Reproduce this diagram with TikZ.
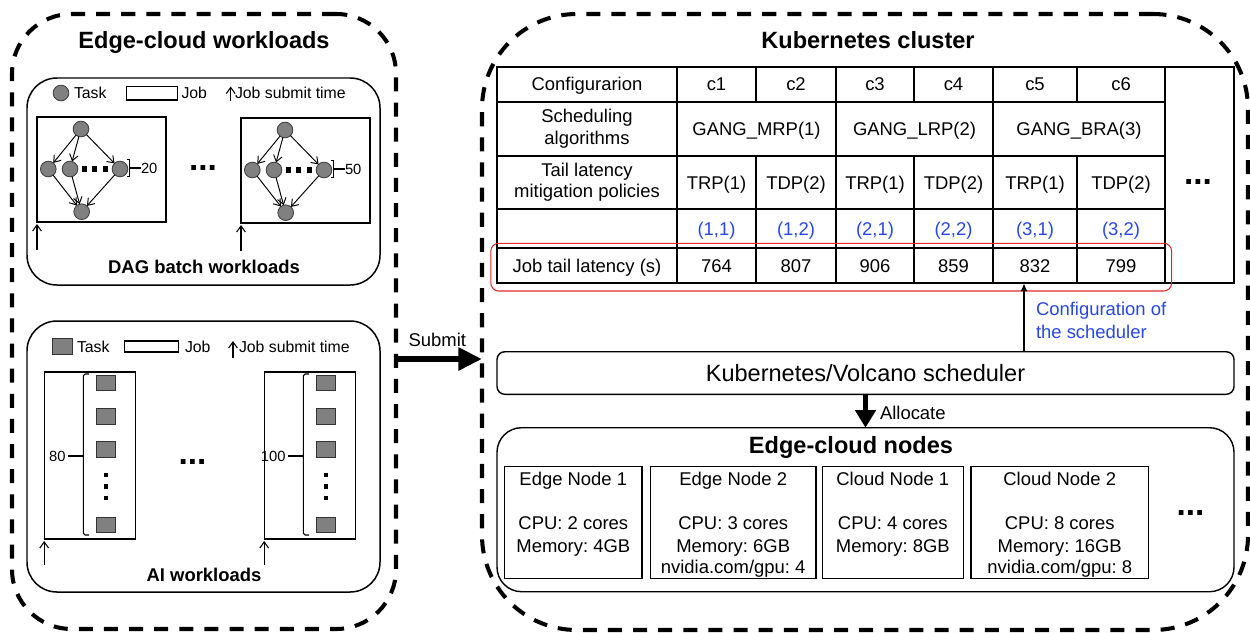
\documentclass[tikz,border=0pt]{standalone}
\usepackage{fontspec}
\setmainfont{Liberation Sans}
\usetikzlibrary{arrows.meta}
\frenchspacing
\definecolor{taskgray}{RGB}{128,128,128}
\definecolor{cfgblue}{RGB}{40,70,230}
\definecolor{boxred}{RGB}{230,40,40}
\newcommand\cellat[7]{\node[cell,#6,minimum width={(#4-#2)*0.02cm},minimum height={(#5-#3)*0.02cm},anchor=north west] (#1) at (#2,#3) {#7};}
\newcommand\boxat[6]{\node[#6,minimum width={(#4-#2)*0.02cm},minimum height={(#5-#3)*0.02cm},anchor=north west] (#1) at (#2,#3) {};}
\newcommand\dagjob[4]{%
\begin{scope}[shift={(#2,#3)}]
\boxat{#1job}{37}{117}{166}{222}{jobbox}
\node[task] (#1t) at (81,129) {};
\node[task] (#1l) at (48.3,169) {};
\node[task] (#1m) at (70,169) {};
\node[task] (#1r) at (120,169) {};
\node[task] (#1b) at (81.7,211.7) {};
\draw[dagedge] (#1t) -- (#1l);
\draw[dagedge] (#1t) -- (#1m);
\draw[dagedge] (#1t) -- (#1r);
\draw[dagedge] (#1l) -- (#1b);
\draw[dagedge] (#1m) -- (#1b);
\draw[dagedge] (#1r) -- (#1b);
\draw[taskdots] (#1m) -- (#1r);
\draw[bracket] (126.5,159.3) -- (129.3,159.3) -- (129.3,176.7) -- (126.5,176.7);
\node[num, anchor=west] (#1n) at (141,168) {#4};
\draw[bracket] (129.3,168) -- (#1n.west);
\coordinate (#1sb) at (37,250);
\coordinate (#1st) at (37,224);
\draw[submitmark] (#1sb) -- (#1st);
\end{scope}}
\newcommand\aijob[4]{%
\begin{scope}[shift={(#2,#3)}]
\boxat{#1job}{44.2}{372}{135.2}{539}{jobbox}
\node[aitask] (#1s1) at (105.7,383) {};
\node[aitask] (#1s2) at (105.7,416.3) {};
\node[aitask] (#1s3) at (105.7,449.7) {};
\node[aitask] (#1s4) at (105.7,525) {};
\draw[vdots] (#1s3) -- (#1s4);
\draw[bracket, rounded corners=1pt] (89,374) -- (83.3,374) -- (83.3,535) -- (89,535);
\node[num, anchor=east] (#1n) at (65.5,456) {#4};
\draw[bracket] (#1n.east) ++(2.5,0) -- (83.3,456);
\coordinate (#1sb) at (44.2,565);
\coordinate (#1st) at (44.2,541);
\draw[submitmark] (#1sb) -- (#1st);
\end{scope}}
\newcommand\ecnodebox[6]{%
\node[ecn,minimum width={(#3-#2)*0.02cm},minimum height={112*0.02cm},anchor=north west] (#1) at (#2,466.7) {};
\node[txt] (#1-a) at ({(#2+#3)/2},479) {#4};
\node[txt] (#1-b) at ({(#2+#3)/2},523.3) {#5};
\node[txt] (#1-c) at ({(#2+#3)/2},545.7) {#6};}
\begin{document}
\begin{tikzpicture}[x=0.02cm,y=-0.02cm,
 every node/.style={inner sep=0pt, outer sep=0pt},
 outerbox/.style={draw, line width=2.3pt, dash pattern=on 8pt off 6.3pt},
 innerbox/.style={draw, line width=0.85pt, rounded corners=17pt},
 jobbox/.style={draw, line width=0.75pt},
 legjob/.style={draw, line width=0.6pt},
 task/.style={circle, draw=black!75, fill=taskgray, line width=0.5pt, minimum size=8.9pt},
 aitask/.style={rectangle, draw=black!80, fill=taskgray, line width=0.6pt, minimum width=11pt, minimum height=9pt},
 dagedge/.style={-{Straight Barb[length=3.5pt,width=5pt]}, line width=0.55pt},
 submitmark/.style={-{Straight Barb[length=3.5pt,width=5pt]}, line width=0.6pt},
 taskdots/.style={line width=2.85pt, dash pattern=on 2.85pt off 3.2pt, shorten <=2.2pt, shorten >=2.2pt},
 vdots/.style={line width=2.3pt, dash pattern=on 2.6pt off 4pt, shorten <=8.5pt, shorten >=9.3pt},
 bracket/.style={line width=0.6pt},
 ttl/.style={font=\fontsize{13.4}{16}\selectfont\bfseries, text height=9.6pt, text depth=0pt},
 subttl/.style={font=\fontsize{10.5}{12.6}\selectfont\bfseries, text height=7.6pt, text depth=0pt},
 txt/.style={font=\fontsize{10.5}{12.6}\selectfont, text height=7.6pt, text depth=0pt},
 lgd/.style={font=\fontsize{9}{11}\selectfont, text height=6.5pt, text depth=0pt},
 num/.style={font=\fontsize{8.4}{10}\selectfont, text height=6pt, text depth=0pt},
 ell/.style={font=\fontsize{19}{20}\selectfont\bfseries},
 cellbase/.style={draw, line width=1.1pt, font=\fontsize{10.5}{12}\selectfont},
 cell/.style={cellbase, text height=7.6pt, text depth=0pt},
 celltwo/.style={align=center, font=\fontsize{10.5}{12}\selectfont},
 ecn/.style={draw, line width=0.8pt},
 ecouter/.style={draw, line width=0.8pt, rounded corners=14pt},
 schedbox/.style={draw, line width=0.8pt, rounded corners=4.5pt, font=\fontsize{13.4}{16}\selectfont, text height=9.6pt, text depth=0pt},
 submitarrow/.style={line width=3.8pt, -{Triangle[length=13.5pt,width=12.5pt]}},
 allocarrow/.style={line width=2.8pt, -{Triangle[length=10pt,width=11.4pt]}},
 cfgarrow/.style={line width=1pt, -{Latex[length=4.5pt,width=4pt]}}]
\useasboundingbox (0,0) rectangle (1250,632);
% outer dashed regions
\boxat{leftouter}{12}{14}{396}{629}{outerbox, rounded corners=34pt}
\boxat{rightouter}{482}{14}{1248}{630}{outerbox, rounded corners=54pt}
\node[ttl] (lefttitle) at (204,40.3) {Edge-cloud workloads};
\node[ttl] (righttitle) at (868,40) {Kubernetes cluster};
\boxat{dagbox}{27}{78}{380}{285}{innerbox}
\boxat{aibox}{27}{321}{380}{592}{innerbox}
% DAG legend
\node[task] (dlgtask) at (61,93) {};
\node[lgd, anchor=west] (dlgtasktxt) at (74,93) {Task};
\boxat{dlgjob}{126.7}{86.7}{177.3}{100}{legjob}
\node[lgd, anchor=west] (dlgjobtxt) at (181.5,93) {Job};
\coordinate (dlgab) at (230.7,100.5);
\coordinate (dlgat) at (230.7,86.5);
\draw[submitmark] (dlgab) -- (dlgat);
\node[lgd, anchor=west] (dlgsubmit) at (235,93) {Job submit time};
\dagjob{da}{0}{0}{20}
\dagjob{db}{204}{1}{50}
\node[ell] (dagdots) at (203,168.5) {...};
\node[subttl] (dagtitle) at (204,267) {DAG batch workloads};
% AI legend
\node[aitask] (algtask) at (62.5,346.4) {};
\node[lgd, anchor=west] (algtasktxt) at (77,347) {Task};
\boxat{algjob}{124.4}{341}{178.2}{352}{legjob}
\node[lgd, anchor=west] (algjobtxt) at (185,347) {Job};
\coordinate (algab) at (233,357.7);
\coordinate (algat) at (233,341);
\draw[submitmark] (algab) -- (algat);
\node[lgd, anchor=west] (algsubmit) at (239,347) {Job submit time};
\aijob{aa}{0}{0}{80}
\aijob{ab}{220}{0}{100}
\node[ell] (aidots) at (192.5,461.7) {...};
\node[subttl] (aititle) at (204,574.6) {AI workloads};
% submit
\coordinate (sy) at (0,359);
\draw[submitarrow] (leftouter.east |- sy) -- (rightouter.west |- sy);
\node[txt] (submitlbl) at (437.3,340) {Submit};
% table
\cellat{conf}{497}{66.7}{677}{101.7}{}{Configurarion}
\cellat{h1}{677}{66.7}{756}{101.7}{}{c1}
\cellat{h2}{756}{66.7}{836}{101.7}{}{c2}
\cellat{h3}{836}{66.7}{914}{101.7}{}{c3}
\cellat{h4}{914}{66.7}{993}{101.7}{}{c4}
\cellat{h5}{993}{66.7}{1077}{101.7}{}{c5}
\cellat{h6}{1077}{66.7}{1165}{101.7}{}{c6}
\cellat{alg}{497}{101.7}{677}{155.7}{}{}
\node[celltwo] (algtxt) at (alg.center) {Scheduling\\algorithms};
\cellat{g1}{677}{101.7}{836}{155.7}{}{GANG\_MRP(1)}
\cellat{g2}{836}{101.7}{993}{155.7}{}{GANG\_LRP(2)}
\cellat{g3}{993}{101.7}{1165}{155.7}{}{GANG\_BRA(3)}
\cellat{pol}{497}{155.7}{677}{209}{}{}
\node[celltwo] (poltxt) at (pol.center) {Tail latency\\mitigation policies};
\cellat{p1}{677}{155.7}{756}{209}{}{TRP(1)}
\cellat{p2}{756}{155.7}{836}{209}{}{TDP(2)}
\cellat{p3}{836}{155.7}{914}{209}{}{TRP(1)}
\cellat{p4}{914}{155.7}{993}{209}{}{TDP(2)}
\cellat{p5}{993}{155.7}{1077}{209}{}{TRP(1)}
\cellat{p6}{1077}{155.7}{1165}{209}{}{TDP(2)}
\cellat{idx}{497}{209}{677}{248}{}{}
\cellat{i1}{677}{209}{756}{248}{text=cfgblue}{(1,1)}
\cellat{i2}{756}{209}{836}{248}{text=cfgblue}{(1,2)}
\cellat{i3}{836}{209}{914}{248}{text=cfgblue}{(2,1)}
\cellat{i4}{914}{209}{993}{248}{text=cfgblue}{(2,2)}
\cellat{i5}{993}{209}{1077}{248}{text=cfgblue}{(3,1)}
\cellat{i6}{1077}{209}{1165}{248}{text=cfgblue}{(3,2)}
\cellat{lat}{497}{248}{677}{283.3}{}{Job tail latency (s)}
\cellat{l1}{677}{248}{756}{283.3}{}{764}
\cellat{l2}{756}{248}{836}{283.3}{}{807}
\cellat{l3}{836}{248}{914}{283.3}{}{906}
\cellat{l4}{914}{248}{993}{283.3}{}{859}
\cellat{l5}{993}{248}{1077}{283.3}{}{832}
\cellat{l6}{1077}{248}{1165}{283.3}{}{799}
\cellat{more}{1165}{66.7}{1234}{283.3}{}{}
\node[ell] (moredots) at (1198,182) {...};
\boxat{latbox}{490.8}{243.3}{1171.6}{291}{draw=boxred, line width=0.6pt, rounded corners=4.5pt}
% scheduler
\node[schedbox, minimum width={737*0.02cm}, minimum height={42.6*0.02cm}, anchor=north west] (sched) at (497,351.7) {Kubernetes/Volcano scheduler};
\coordinate (cfgx) at (1024,0);
\draw[cfgarrow] (sched.north -| cfgx) -- (l5.south -| cfgx);
\node[font=\fontsize{10.5}{12.9}\selectfont, text=cfgblue, align=left, anchor=west] (cfglbl) at (1036,320.3) {Configuration of\\the scheduler};
% edge-cloud nodes
\boxat{ecbox}{497}{427.7}{1234}{591.7}{ecouter}
\draw[allocarrow] (sched.south) -- (ecbox.north);
\node[txt, anchor=west] (alloclbl) at (880,412.7) {Allocate};
\node[ttl] (ectitle) at (851,445) {Edge-cloud nodes};
\ecnodebox{en1}{504.6}{642}{Edge Node 1}{CPU: 2 cores}{Memory: 4GB}
\ecnodebox{en2}{650.4}{816}{Edge Node 2}{CPU: 3 cores}{Memory: 6GB}
\node[txt] (en2-d) at (733.2,567.3) {nvidia.com/gpu: 4};
\ecnodebox{cn1}{822.3}{963.3}{Cloud Node 1}{CPU: 4 cores}{Memory: 8GB}
\ecnodebox{cn2}{971}{1148.5}{Cloud Node 2}{CPU: 8 cores}{Memory: 16GB}
\node[txt] (cn2-d) at (1059.75,567.3) {nvidia.com/gpu: 8};
\node[ell] (ecdots) at (1190.5,513.3) {...};
\end{tikzpicture}
\end{document}
